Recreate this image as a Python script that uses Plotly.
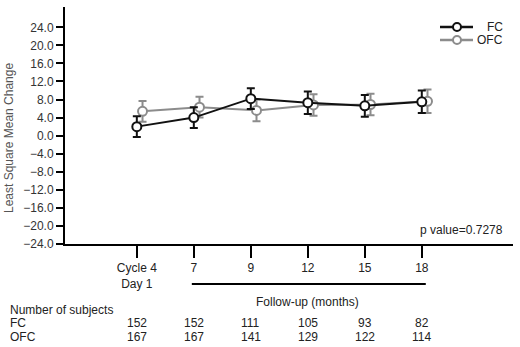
import plotly.graph_objects as go

categories = ["Cycle 4<br>Day 1", "7", "9", "12", "15", "18"]
fc_mean = [2.0, 4.0, 8.2, 7.3, 6.6, 7.5]
fc_err = [2.3, 2.3, 2.3, 2.5, 2.4, 2.5]
ofc_mean = [5.4, 6.3, 5.6, 6.8, 6.9, 7.6]
ofc_err = [2.3, 2.3, 2.4, 2.4, 2.4, 2.6]
n_fc = [152, 152, 111, 105, 93, 82]
n_ofc = [167, 167, 141, 129, 122, 114]
y_ticks = [-24, -20, -16, -12, -8, -4, 0, 4, 8, 12, 16, 20, 24]

FONT = "Arial, Liberation Sans, sans-serif"
FC_COL = "#111111"
OFC_COL = "#8c8c8c"
pos = list(range(len(categories)))
dx = 0.1

PLOT_L, PLOT_R, PLOT_T, PLOT_B = 65, 513, 7, 244
PW, PH = PLOT_R - PLOT_L, PLOT_B - PLOT_T


def px(x):
    return (x - PLOT_L) / PW


def py(y):
    return (PLOT_B - y) / PH


fig = go.Figure()
fig.add_trace(go.Scatter(
    x=[p + dx for p in pos], y=ofc_mean, name="OFC", mode="lines+markers",
    line=dict(color=OFC_COL, width=2),
    marker=dict(symbol="circle", size=9, color="white", line=dict(color=OFC_COL, width=2)),
    error_y=dict(type="data", array=ofc_err, color=OFC_COL, thickness=2, width=4),
))
fig.add_trace(go.Scatter(
    x=pos, y=fc_mean, name="FC", mode="lines+markers",
    line=dict(color=FC_COL, width=2),
    marker=dict(symbol="circle", size=9, color="white", line=dict(color=FC_COL, width=2)),
    error_y=dict(type="data", array=fc_err, color=FC_COL, thickness=2, width=4),
))

ann = []
shapes = []
txt = dict(size=12, color="#222", family=FONT)

# y axis title
ann.append(dict(x=px(9), y=py(138), xref="paper", yref="paper", text="Least Square Mean Change",
                textangle=-90, showarrow=False, xanchor="center", yanchor="middle",
                font=dict(size=12, color="#555", family=FONT)))

# legend (manual, right aligned text)
for name, col, ly in [("FC", FC_COL, 27), ("OFC", OFC_COL, 40)]:
    shapes.append(dict(type="line", xref="paper", yref="paper", x0=px(440), x1=px(473),
                       y0=py(ly), y1=py(ly), line=dict(color=col, width=2.5)))
    shapes.append(dict(type="circle", xref="paper", yref="paper", x0=px(453), x1=px(461),
                       y0=py(ly + 4), y1=py(ly - 4), fillcolor="white",
                       line=dict(color=col, width=2)))
    ann.append(dict(x=px(505), y=py(ly), xref="paper", yref="paper", text=name,
                    showarrow=False, xanchor="right", yanchor="middle", font=txt))

# p value
ann.append(dict(x=px(505), y=py(230), xref="paper", yref="paper", text="p value=0.7278",
                showarrow=False, xanchor="right", yanchor="middle", font=txt))
# follow-up label
ann.append(dict(x=3.0, y=py(302), xref="x", yref="paper", text="Follow-up (months)",
                showarrow=False, xanchor="center", yanchor="middle", font=txt))
ann.append(dict(x=px(8), y=py(310), xref="paper", yref="paper", text="Number of subjects",
                showarrow=False, xanchor="left", yanchor="middle", font=txt))
for label, row, yy in [("FC", n_fc, 323), ("OFC", n_ofc, 337)]:
    ann.append(dict(x=px(8), y=py(yy), xref="paper", yref="paper", text=label,
                    showarrow=False, xanchor="left", yanchor="middle", font=txt))
    for p, v in zip(pos, row):
        ann.append(dict(x=p, y=py(yy), xref="x", yref="paper", text=str(v),
                        showarrow=False, xanchor="center", yanchor="middle", font=txt))

shapes.append(dict(type="line", xref="x", yref="paper", x0=0.965, x1=5.07,
                   y0=py(284), y1=py(284), line=dict(color="black", width=2)))

fig.update_layout(
    width=520, height=347,
    margin=dict(l=PLOT_L, r=520 - PLOT_R, t=PLOT_T, b=347 - PLOT_B, autoexpand=False),
    paper_bgcolor="white", plot_bgcolor="white",
    font=dict(family=FONT, size=12, color="#333"),
    showlegend=False,
    annotations=ann,
    shapes=shapes,
    xaxis=dict(range=[-1.26, 6.6], tickvals=pos, ticktext=categories, automargin=False,
               showline=True, linecolor="black", linewidth=2, showgrid=False, zeroline=False,
               ticks="outside", ticklen=12, tickwidth=2, tickcolor="black",
               tickfont=dict(size=12, color="#222")),
    yaxis=dict(range=[-24, 28.5], tickvals=y_ticks, tickformat=".1f", automargin=False,
               showline=True, linecolor="black", linewidth=2, showgrid=False, zeroline=False,
               ticks="outside", ticklen=7, tickwidth=2, tickcolor="black",
               tickfont=dict(size=12, color="#333")),
)

fig.write_html("out.html", config={"displayModeBar": False},
               post_script="document.body.style.margin='0';document.body.style.overflow='hidden';")
